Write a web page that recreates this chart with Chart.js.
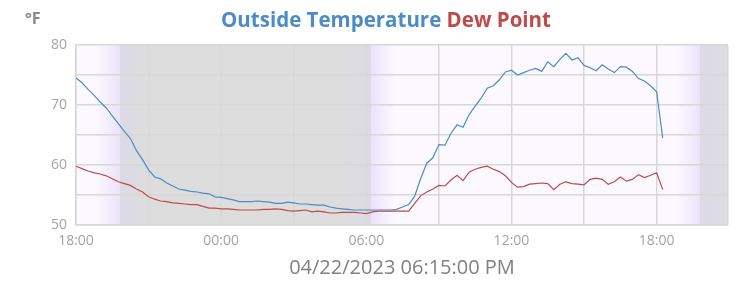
<!DOCTYPE html>
<html>
<head>
<meta charset="utf-8">
<script src="https://cdn.jsdelivr.net/npm/chart.js@4/dist/chart.umd.min.js"></script>
<style>
  html, body { margin: 0; padding: 0; background: #ffffff; }
  #wrap { width: 741px; height: 288px; }
</style>
</head>
<body>
<div id="wrap"><canvas id="tempChart" width="741" height="288"></canvas></div>
<script>
// readings every 15 minutes, starting 04/21/2023 18:00
const startHour = 18;
const stepHours = 0.25;

const outsideTemp = [
    74.5, 73.7, 72.6, 71.6, 70.5, 69.5, 68.2, 66.9, 65.6, 64.4,
    62.4, 60.9, 59.2, 58.0, 57.7, 57.0, 56.5, 56.0, 55.8, 55.6,
    55.5, 55.3, 55.2, 54.7, 54.6, 54.4, 54.2, 53.9, 53.9, 53.9,
    54.0, 53.9, 53.8, 53.6, 53.6, 53.8, 53.7, 53.5, 53.5, 53.4,
    53.3, 53.3, 53.0, 52.8, 52.7, 52.6, 52.5, 52.5, 52.5, 52.5,
    52.5, 52.5, 52.5, 52.6, 53.0, 53.4, 54.8, 57.8, 60.3, 61.2,
    63.4, 63.3, 65.3, 66.7, 66.3, 68.4, 69.8, 71.2, 72.8, 73.2,
    74.2, 75.5, 75.8, 75.0, 75.4, 75.8, 76.1, 75.6, 77.2, 76.4,
    77.6, 78.6, 77.5, 77.9, 76.6, 76.2, 75.7, 76.7, 76.0, 75.4,
    76.4, 76.3, 75.6, 74.4, 74.0, 73.2, 72.2, 64.5
];

const dewPoint = [
    59.8, 59.4, 59.0, 58.7, 58.5, 58.2, 57.7, 57.2, 56.9, 56.6,
    56.0, 55.5, 54.7, 54.3, 54.0, 53.9, 53.7, 53.6, 53.5, 53.4,
    53.4, 53.1, 52.8, 52.8, 52.7, 52.7, 52.6, 52.5, 52.5, 52.5,
    52.5, 52.6, 52.6, 52.7, 52.6, 52.4, 52.3, 52.4, 52.5, 52.2,
    52.3, 52.2, 52.0, 52.0, 52.1, 52.1, 52.1, 52.0, 51.9, 52.2,
    52.3, 52.3, 52.3, 52.3, 52.3, 52.3, 53.6, 54.9, 55.5, 56.0,
    56.6, 56.5, 57.5, 58.3, 57.4, 58.8, 59.3, 59.6, 59.8, 59.3,
    58.9, 58.2, 57.1, 56.3, 56.4, 56.8, 56.9, 57.0, 56.9, 55.9,
    56.8, 57.2, 56.9, 56.8, 56.7, 57.6, 57.8, 57.6, 56.8, 57.2,
    58.0, 57.3, 57.6, 58.4, 57.9, 58.3, 58.7, 55.9
];

// hours after 18:00
const sunsetDay1 = 1.8;
const sunriseDay2 = 12.2;
const sunsetDay2 = 25.78;
const axisEnd = 26.95;

const yTicks = [50, 60, 70, 80];
const timestamp = "04/22/2023 06:15:00 PM";

const blue = "rgb(76, 140, 198)";
const red = "rgb(192, 74, 74)";

function toPoints(values) {
    return values.map(function (v, i) {
        return { x: i * stepHours, y: v };
    });
}

const dayNight = {
    id: "dayNight",
    beforeDraw(chart) {
        const { ctx, chartArea, scales } = chart;
        const left = chartArea.left, right = chartArea.right;
        const w = right - left;
        const r = function (h) {
            const p = (scales.x.getPixelForValue(h) - left) / w;
            return Math.min(1, Math.max(0, p));
        };
        const day = "#fbf9ff";
        const dusk = "#ebe3f9";
        const nightEdge = "#dbdae6";
        const night = "#dddddd";

        const g = ctx.createLinearGradient(left, 0, right, 0);
        g.addColorStop(0, day);
        g.addColorStop(r(sunsetDay1 - 1.0), day);
        g.addColorStop(r(sunsetDay1), dusk);
        g.addColorStop(r(sunsetDay1) + 0.0001, nightEdge);
        g.addColorStop(r(sunsetDay1 + 1.2), night);
        g.addColorStop(r(sunriseDay2 - 1.3), night);
        g.addColorStop(r(sunriseDay2), nightEdge);
        g.addColorStop(r(sunriseDay2) + 0.0001, dusk);
        g.addColorStop(r(sunriseDay2 + 1.0), day);
        g.addColorStop(r(sunsetDay2 - 0.95), day);
        g.addColorStop(r(sunsetDay2), dusk);
        g.addColorStop(r(sunsetDay2) + 0.0001, nightEdge);
        g.addColorStop(1, "#dddde3");

        ctx.save();
        ctx.fillStyle = g;
        ctx.fillRect(left, chartArea.top, w, chartArea.bottom - chartArea.top);
        ctx.restore();
    },
    afterDraw(chart) {
        const ctx = chart.ctx;
        ctx.save();
        ctx.textBaseline = "middle";

        ctx.font = "bold 16px 'Open Sans'";
        ctx.fillStyle = "#8a8a8a";
        ctx.textAlign = "left";
        ctx.fillText("°F", 25, 19);

        ctx.font = "bold 20.5px 'Open Sans'";
        const t1 = "Outside Temperature";
        const t2 = "Dew Point";
        const gap = ctx.measureText(" ").width;
        const total = ctx.measureText(t1).width + gap + ctx.measureText(t2).width;
        let x = 386 - total / 2;
        ctx.fillStyle = blue;
        ctx.fillText(t1, x, 21);
        x += ctx.measureText(t1).width + gap;
        ctx.fillStyle = red;
        ctx.fillText(t2, x, 21);
        ctx.restore();
    }
};

new Chart(document.getElementById("tempChart"), {

    type: "line",

    data: {
        datasets: [
            {
                label: "Outside Temperature",
                data: toPoints(outsideTemp),
                borderColor: blue,
                borderWidth: 1.2,
                pointRadius: 0,
                tension: 0
            },
            {
                label: "Dew Point",
                data: toPoints(dewPoint),
                borderColor: red,
                borderWidth: 1.2,
                pointRadius: 0,
                tension: 0
            }
        ]
    },

    options: {
        responsive: false,
        animation: false,
        layout: {
            padding: { left: 0, right: 13, top: 45, bottom: 0 }
        },
        plugins: {
            legend: { display: false },
            tooltip: { enabled: false }
        },
        scales: {
            x: {
                type: "linear",
                min: 0,
                max: axisEnd,
                afterFit: function (scale) { scale.height = 63; },
                grid: {
                    color: "#d7d7d7",
                    lineWidth: 1.5,
                    drawTicks: false
                },
                border: { color: "#d7d7d7", width: 1.5 },
                ticks: {
                    stepSize: 3,
                    padding: 8,
                    maxRotation: 0,
                    autoSkip: false,
                    color: "#a4a4a4",
                    font: { family: "'Open Sans'", size: 14 },
                    callback: function (v) {
                        if (v % 6 !== 0) return "";
                        const h = (startHour + v) % 24;
                        return String(h).padStart(2, "0") + ":00";
                    }
                },
                title: {
                    display: true,
                    text: timestamp,
                    color: "#808080",
                    font: { family: "'Open Sans'", size: 20 },
                    padding: { top: 0, bottom: 8 }
                }
            },
            y: {
                min: 50,
                max: 80,
                afterFit: function (scale) { scale.width = 76; },
                grid: {
                    color: "#d7d7d7",
                    lineWidth: 1.5,
                    drawTicks: false
                },
                border: { color: "#d7d7d7", width: 1.5 },
                ticks: {
                    stepSize: 5,
                    padding: 9,
                    color: "#a4a4a4",
                    font: { family: "'Open Sans'", size: 14 },
                    callback: function (v) {
                        return yTicks.includes(v) ? String(v) : "";
                    }
                }
            }
        }
    },

    plugins: [dayNight]
});
</script>
</body>
</html>
